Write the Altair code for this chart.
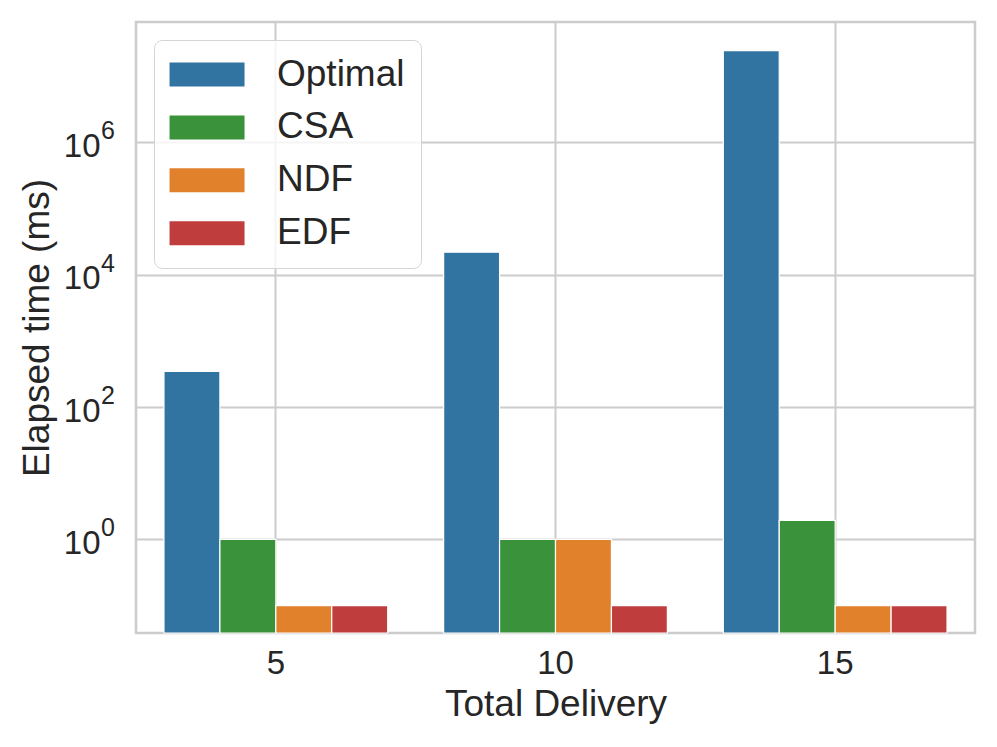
import math
import altair as alt
import pandas as pd

# ---- data ----
deliveries = ["5", "10", "15"]
algorithms = ["Optimal", "CSA", "NDF", "EDF"]
optimal = [345, 21900, 2.44e7]
csa = [1.0, 1.0, 1.94]
ndf = [0.1, 1.0, 0.1]
edf = [0.1, 0.1, 0.1]
colors = ["#3274a1", "#3a923a", "#e1812c", "#c03d3e"]
y_ticks = [1, 100, 10000, 1000000]
y_min = 0.0386
y_max = 6.6e7

rows = []
for alg, vals in zip(algorithms, [optimal, csa, ndf, edf]):
    for d, v in zip(deliveries, vals):
        rows.append({"delivery": d, "algorithm": alg, "time": v})
df = pd.DataFrame(rows)

ticks_df = pd.DataFrame({
    "value": y_ticks,
    "exp": [str(int(round(math.log10(v)))) for v in y_ticks],
})

FONT = "Liberation Sans"
TXT = "#262626"
GRID = "#cccccc"

y_scale = alt.Scale(type="log", domain=[y_min, y_max], nice=False)

bars = alt.Chart(df).mark_bar(stroke="white", strokeWidth=1.2).encode(
    x=alt.X(
        "delivery:N",
        sort=deliveries,
        scale=alt.Scale(paddingInner=0.2, paddingOuter=0.1),
        axis=alt.Axis(
            title="Total Delivery", labelAngle=0, grid=True, bandPosition=0.5,
            ticks=False, tickSize=0, domain=False, labelPadding=14, titlePadding=6,
        ),
    ),
    xOffset=alt.XOffset("algorithm:N", sort=algorithms,
                        scale=alt.Scale(paddingInner=0, paddingOuter=0)),
    y=alt.Y(
        "time:Q",
        scale=y_scale,
        axis=alt.Axis(
            title="Elapsed time (ms)", values=y_ticks, labelExpr="'10'",
            grid=True, ticks=False, tickSize=0, domain=False,
            labelPadding=36, labelOffset=4, labelBaseline="middle", titlePadding=7,
        ),
    ),
    y2=alt.datum(y_min),
    color=alt.Color(
        "algorithm:N",
        sort=algorithms,
        scale=alt.Scale(domain=algorithms, range=colors),
        legend=alt.Legend(
            title=None, orient="none", legendX=18, legendY=18,
            symbolType="M-1.58,-1H4.67V1H-1.58Z", symbolSize=576,
            symbolStrokeWidth=0, symbolOpacity=1,
            labelFontSize=37, labelColor=TXT, labelFont=FONT, labelOffset=70,
            rowPadding=14.9, padding=16,
            strokeColor="#d5d5d5", cornerRadius=8, fillColor="rgba(255,255,255,0.8)",
        ),
    ),
)

exps = alt.Chart(ticks_df).mark_text(
    align="left", baseline="alphabetic", fontSize=25, font=FONT, color=TXT, dy=-3
).encode(
    x=alt.value(-35),
    y=alt.Y("value:Q", scale=y_scale),
    text="exp:N",
)

chart = alt.layer(bars, exps).properties(
    width=839, height=611,
    autosize="none",
    padding={"left": 128, "top": 14, "right": 10, "bottom": 100},
).configure_view(
    stroke=GRID, strokeWidth=2.5
).configure_axis(
    gridColor=GRID, gridWidth=2,
    labelFont=FONT, titleFont=FONT, labelFontSize=33, titleFontSize=37,
    labelColor=TXT, titleColor=TXT, titleFontWeight="normal",
)

chart.save("out.html", embed_options={"renderer": "svg", "actions": False})
